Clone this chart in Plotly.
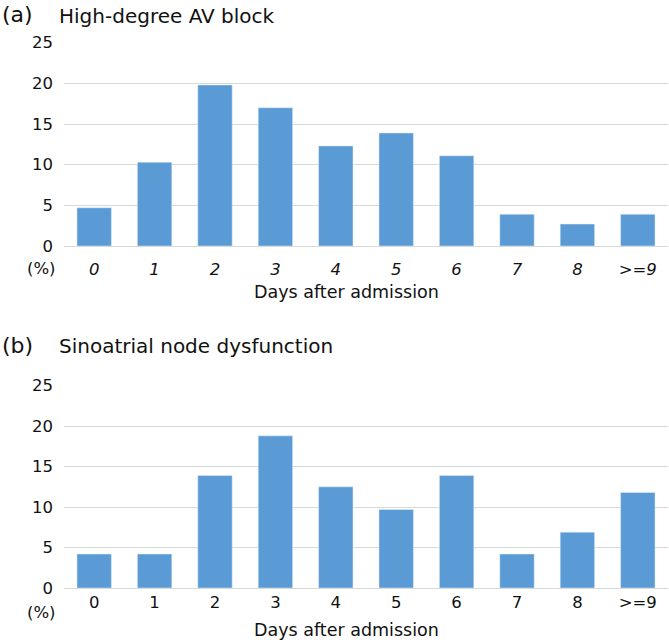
import plotly.graph_objects as go

categories = ["0", "1", "2", "3", "4", "5", "6", "7", "8", ">=9"]
av_block = [4.7, 10.3, 19.8, 17.0, 12.3, 13.9, 11.1, 3.9, 2.7, 3.9]
sa_node = [4.2, 4.2, 13.9, 18.8, 12.5, 9.7, 13.9, 4.2, 6.9, 11.8]
y_ticks = [0, 5, 10, 15, 20, 25]
title_a = "High-degree AV block"
title_b = "Sinoatrial node dysfunction"
x_title = "Days after admission"

FONT = "DejaVu Sans"
BAR = "#5B9BD5"
GRID = "#D9D9D9"
TXT = "#111111"

fig = go.Figure()
idx = list(range(len(categories)))
fig.add_trace(go.Bar(x=idx, y=av_block, marker_color=BAR, width=0.57,
                     xaxis="x", yaxis="y", showlegend=False))
fig.add_trace(go.Bar(x=idx, y=sa_node, marker_color=BAR, width=0.57,
                     xaxis="x2", yaxis="y2", showlegend=False))

H = 644.0
W = 669.0
xdom = [64 / W, 668 / W]

def xax(italic, standoff, anchor):
    return dict(
        domain=xdom, range=[-0.5, 9.5], anchor=anchor, automargin=False,
        tickmode="array", tickvals=idx,
        ticktext=[("<i>%s</i>" % c) if italic else c for c in categories],
        showgrid=False, zeroline=False, showline=False, ticks="",
        ticklabelstandoff=standoff,
        tickfont=dict(family=FONT, size=16.5, color=TXT),
        fixedrange=True,
    )

def yax(dom, anchor):
    return dict(
        domain=dom, range=[0, 25], anchor=anchor, automargin=False,
        tickmode="array", tickvals=y_ticks,
        showgrid=True, gridcolor=GRID, gridwidth=1,
        zeroline=True, zerolinecolor=GRID, zerolinewidth=1,
        showline=False, ticks="", ticklabelstandoff=10,
        tickfont=dict(family=FONT, size=16.5, color=TXT),
        fixedrange=True,
    )

fig.update_layout(
    width=669, height=644,
    margin=dict(l=0, r=0, t=0, b=0, autoexpand=False),
    paper_bgcolor="white", plot_bgcolor="white",
    xaxis=xax(True, 11, "y"),
    yaxis=yax([1 - 246 / H, 1 - 42.7 / H], "x"),
    xaxis2=xax(False, 2, "y2"),
    yaxis2=yax([1 - 588 / H, 1 - 385.7 / H], "x2"),
)

ann = []
def add_text(text, x, y, size, xanchor="left"):
    ann.append(dict(text=text, x=x / W, y=1 - y / H, xref="paper", yref="paper",
                    xanchor=xanchor, yanchor="middle", showarrow=False,
                    font=dict(family=FONT, size=size, color=TXT)))

add_text("(a)", 0, 15, 22)
add_text(title_a, 57, 16, 20)
add_text("(b)", 0, 345, 22)
add_text(title_b, 57, 346, 20)
add_text("(%)", 58, 268, 16.5, "right")
add_text("(%)", 58, 612, 16.5, "right")
add_text(x_title, 346, 292, 17.5, "center")
add_text(x_title, 346, 630, 17.5, "center")
fig.update_layout(annotations=ann)

fig.write_html("out.html", config={"displayModeBar": False},
               post_script="document.body.style.margin='0';")
